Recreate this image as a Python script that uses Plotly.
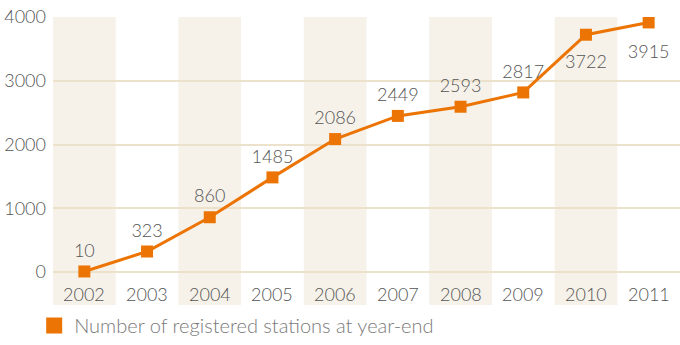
import plotly.graph_objects as go

years = ["2002", "2003", "2004", "2005", "2006", "2007", "2008", "2009", "2010", "2011"]
stations = [10, 323, 860, 1485, 2086, 2449, 2593, 2817, 3722, 3915]
label_pos = ["top center"] * 8 + ["bottom center", "bottom center"]
label_gap = [15] * 8 + [30, 34]  # invisible marker size that sets each label's offset
y_ticks = [0, 1000, 2000, 3000, 4000]
series_name = "Number of registered stations at year-end"

ORANGE = "#ec7404"
BAND = "#f6f2ea"
GRID = "#ece2cc"
TEXT = "#555555"
FONT = "Lato"

fig = go.Figure()

fig.add_trace(go.Scatter(
    x=years, y=stations,
    mode="lines+markers",
    line=dict(color=ORANGE, width=3),
    marker=dict(symbol="square", size=12, color=ORANGE),
    showlegend=False,
))

# value labels
fig.add_trace(go.Scatter(
    x=years, y=stations,
    mode="markers+text",
    marker=dict(size=label_gap, opacity=0),
    text=[str(v) for v in stations],
    textposition=label_pos,
    textfont=dict(family=FONT, size=18, color=TEXT, weight=300),
    cliponaxis=False,
    hoverinfo="skip",
    showlegend=False,
))

# legend entry: plain orange square
fig.add_trace(go.Scatter(
    x=[None], y=[None], mode="markers", name=series_name,
    marker=dict(symbol="square", size=18, color=ORANGE),
))

# alternating column bands
shapes = []
for i in range(0, len(years), 2):
    shapes.append(dict(type="rect", xref="x", yref="paper",
                       x0=i - 0.5, x1=i + 0.5, y0=0, y1=1,
                       fillcolor=BAND, line=dict(width=0), layer="below"))
fig.update_layout(shapes=shapes)

# year labels sit inside the bands below the zero line
for i, yr in enumerate(years):
    fig.add_annotation(x=i, y=-345, xref="x", yref="y", text=yr, showarrow=False,
                       font=dict(family=FONT, size=18, color=TEXT, weight=300),
                       xanchor="center", yanchor="middle")

fig.update_layout(
    width=680, height=345,
    margin=dict(l=53, r=0, t=17, b=39),
    paper_bgcolor="white", plot_bgcolor="white",
    xaxis=dict(type="category", range=[-0.5, len(years) - 0.5],
               showticklabels=False, showgrid=False, zeroline=False, showline=False),
    yaxis=dict(range=[-516, 4000], tickvals=y_ticks,
               tickfont=dict(family=FONT, size=18, color=TEXT, weight=300),
               showgrid=True, gridcolor=GRID, gridwidth=1.5,
               zeroline=False, showline=False, ticks="", ticklabelstandoff=6),
    legend=dict(x=-0.03, y=-0.073, xanchor="left", yanchor="middle",
                orientation="h", bgcolor="rgba(0,0,0,0)",
                font=dict(family=FONT, size=20, color="#7a7a7a", weight=300),
                itemwidth=30),
    hovermode="closest",
)

fig.write_html("out.html")
